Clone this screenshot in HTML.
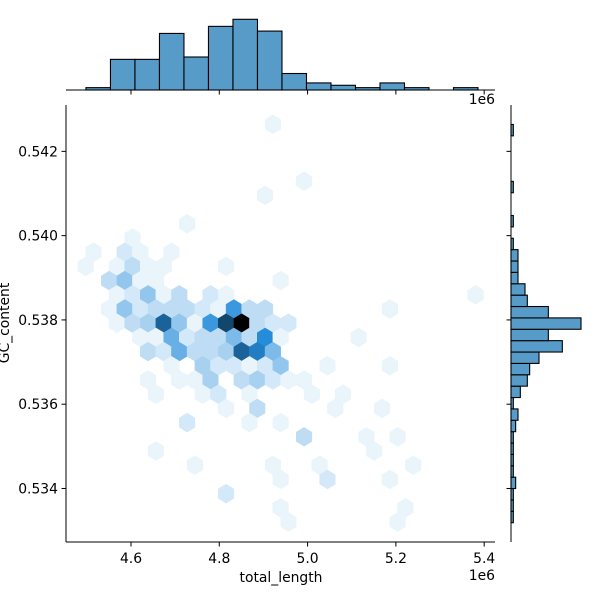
<!DOCTYPE html>
<html><head><meta charset="utf-8"><style>
html,body{margin:0;padding:0;background:#fff;}
svg{display:block;font-family:"DejaVu Sans","Liberation Sans",sans-serif;}
</style></head><body>
<svg id="chart" width="600" height="600" viewBox="0 0 600 600" xmlns="http://www.w3.org/2000/svg">
<rect x="0" y="0" width="600" height="600" fill="#fff"/>
<g id="hexes"></g>
<g id="tophist"></g>
<g id="righthist"></g>
<g id="axes"></g>
<text x="281" y="582" font-size="13.9" text-anchor="middle">total_length</text>
<text x="0" y="0" font-size="13.9" text-anchor="middle" transform="translate(9,323) rotate(-90)">GC_content</text>
<text x="495" y="580" font-size="13.9" text-anchor="end">1e6</text>
<text x="495" y="104" font-size="13.9" text-anchor="end">1e6</text>
</svg>
<script>
// ---- data ----
const xTicks = [4.6, 4.8, 5.0, 5.2, 5.4];
const xTickLabels = ["4.6", "4.8", "5.0", "5.2", "5.4"];
const yTicks = [0.534, 0.536, 0.538, 0.540, 0.542];
const yTickLabels = ["0.534", "0.536", "0.538", "0.540", "0.542"];
// hex grid (data units, total_length in 1e6)
const hexX0 = 4.8507, hexDX = 0.03533, hexY0 = 0.537922, hexDY = 0.000337;
const hexRow = [-14,-10,-9,-7,-6,
 -5,-5,-5,-5,
 -4,-4,-4,-4,-4,-4,
 -3,-3,-3,-3,-3,
 -2,-2,-2,-2,-2,-2,-2,-2,
 -1,-1,-1,-1,-1,-1,-1,-1,-1,-1,-1,-1,
 0,0,0,0,0,0,0,0,0,0,0,0,
 1,1,1,1,1,1,1,1,1,1,1,
 2,2,2,2,2,2,2,2,2,
 3,3,3,3,3,3,3,3,3,
 4,4,4,4,4,4,4,4,4,
 5,5,5,5,5,5,
 6,6,6,6,
 7,7,7,
 8,8,8,
 9,9,
 10,10,10,10,
 11,11,11,
 12,
 13,13,
 14,14];
const hexCol = [2,4,1.5,-3.5,-7,
 -9.5,-7.5,-6.5,-4.5,
 -10,-8,-7,-6,-5,-1,
 -8.5,-7.5,-6.5,-5.5,2.5,
 -8,-7,-6,-5,-4,-2,-1,15,
 -8.5,-7.5,-6.5,-5.5,-4.5,-3.5,-2.5,-1.5,-0.5,0.5,1.5,9.5,
 -8,-7,-6,-5,-4,-3,-2,-1,0,1,2,3,
 -6.5,-5.5,-4.5,-3.5,-2.5,-1.5,-0.5,0.5,1.5,2.5,7.5,
 -6,-5,-4,-3,-2,-1,0,1,2,
 -4.5,-2.5,-1.5,-0.5,0.5,1.5,2.5,5.5,9.5,
 -6,-4,-3,-2,0,1,2,3,4,
 -5.5,-2.5,-1.5,0.5,4.5,6.5,
 -1,1,6,9,
 -3.5,0.5,2.5,
 4,8,10,
 -5.5,8.5,
 -3,2,5,11,
 2.5,5.5,9.5,
 -1,
 2.5,10.5,
 3,10];
const hexCount = [1,1,1,1,1,
 1,2,1,1,
 1,1,3,1,1,1,
 3,5,1,1,1,
 1,2,5,1,3,2,1,1,
 1,5,2,3,3,3,2,1,9,3,3,1,
 1,3,4,13,5,1,9,15,20,3,2,2,
 1,1,7,2,3,3,6,3,10,1,1,
 3,2,7,3,3,4,13,11,6,
 1,4,2,2,1,2,5,1,1,
 1,1,1,4,3,4,2,1,1,
 1,1,2,1,1,1,
 1,3,1,1,
 2,1,1,
 3,1,1,
 1,1,
 1,1,1,1,
 1,2,1,
 2,
 1,1,
 1,1];
// top marginal histogram
const topBinStart = 4.498, topBinWidth = 0.0555;
const topCounts = [1,13,13,24,14,27,30,25,7,3,2,1,3,1,0,1];
// right marginal histogram (bottom to top)
const rightBinStart = 0.533188, rightBinWidth = 0.00027;
const rightCounts = [1,1,1,2,1,1,1,1,2,3,1,4,7,8,12,22,16,30,16,7,6,3,3,3,1,0,1,0,0,1,0,0,0,0,1];

// ---- scales ----
const X_MIN = 4.4528, X_MAX = 5.4245, PX_L = 66, PX_R = 495;
const Y_MIN = 0.53273, Y_MAX = 0.54310, PY_B = 542, PY_T = 105;
function sx(v){ return PX_L + (v - X_MIN) / (X_MAX - X_MIN) * (PX_R - PX_L); }
function sy(v){ return PY_B - (v - Y_MIN) / (Y_MAX - Y_MIN) * (PY_B - PY_T); }
const TOP_BASE = 90, TOP_PER = 70.7 / 30;
function topH(c){ return c * TOP_PER; }
const RIGHT_BASE = 511, RIGHT_PER = 70 / 30;
function rightW(c){ return c * RIGHT_PER; }
const MAXC = 20;
function hexColor(c){ const l = Math.max(0, 1 - c / MAXC); return "hsl(205.7,70.6%," + (l*100).toFixed(1) + "%)"; }

const NS = "http://www.w3.org/2000/svg";
function mk(tag, attrs, parent){ const e = document.createElementNS(NS, tag); for (const k in attrs) e.setAttribute(k, attrs[k]); parent.appendChild(e); return e; }

// hexes
const gH = document.getElementById("hexes");
for (let k = 0; k < hexCount.length; k++) {
  const cx = sx(hexX0 + hexCol[k] * hexDX);
  const cy = sy(hexY0 - hexRow[k] * hexDY);
  const hw = (sx(hexX0 + hexDX) - sx(hexX0)) / 2;
  const rowPx = sy(hexY0 - hexDY) - sy(hexY0);
  const top = rowPx * 2 / 3, sh = rowPx / 3;
  const pts = [[cx, cy - top],[cx + hw, cy - sh],[cx + hw, cy + sh],[cx, cy + top],[cx - hw, cy + sh],[cx - hw, cy - sh]].map(p => p[0].toFixed(2) + "," + p[1].toFixed(2)).join(" ");
  const col = hexColor(hexCount[k]);
  const p = mk("polygon", {points: pts, fill: col, stroke: col, "stroke-width": "0.5"}, gH);
  
  
}

// top histogram
const gT = document.getElementById("tophist");
for (let k = 0; k < topCounts.length; k++) {
  if (topCounts[k] <= 0) continue;
  const x0 = sx(topBinStart + k * topBinWidth), x1 = sx(topBinStart + (k + 1) * topBinWidth);
  const h = topH(topCounts[k]);
  const r = mk("rect", {x: x0, y: TOP_BASE - h, width: x1 - x0, height: h, fill: "#579bc8", stroke: "#000", "stroke-width": "1.1"}, gT);
  
  
}
// right histogram
const gR = document.getElementById("righthist");
for (let k = 0; k < rightCounts.length; k++) {
  if (rightCounts[k] <= 0) continue;
  const y0 = sy(rightBinStart + (k + 1) * rightBinWidth), y1 = sy(rightBinStart + k * rightBinWidth);
  const w = rightW(rightCounts[k]);
  const r = mk("rect", {x: RIGHT_BASE, y: y0, width: w, height: y1 - y0, fill: "#579bc8", stroke: "#000", "stroke-width": "1.1"}, gR);
  
  
}

// axes
const gA = document.getElementById("axes");
let e;
e = mk("line", {x1: PX_L, y1: PY_T, x2: PX_L, y2: PY_B, stroke: "#000", "stroke-width": "1"}, gA);
 
e = mk("line", {x1: PX_L, y1: PY_B, x2: PX_R, y2: PY_B, stroke: "#000", "stroke-width": "1"}, gA);
 
e = mk("line", {x1: PX_L, y1: TOP_BASE, x2: PX_R, y2: TOP_BASE, stroke: "#000", "stroke-width": "1"}, gA);
 
e = mk("line", {x1: RIGHT_BASE, y1: PY_T, x2: RIGHT_BASE, y2: PY_B, stroke: "#000", "stroke-width": "1"}, gA);
 
for (let k = 0; k < xTicks.length; k++) {
  const x = sx(xTicks[k]);
  e = mk("line", {x1: x, y1: PY_B, x2: x, y2: PY_B + 4.5, stroke: "#000", "stroke-width": "1"}, gA);
   
  e = mk("line", {x1: x, y1: TOP_BASE, x2: x, y2: TOP_BASE + 4.5, stroke: "#000", "stroke-width": "1"}, gA);
   
  e = mk("text", {x: x, y: PY_B + 21, "font-size": "13.9", "text-anchor": "middle"}, gA);
  e.textContent = xTickLabels[k];
   
}
for (let k = 0; k < yTicks.length; k++) {
  const y = sy(yTicks[k]);
  e = mk("line", {x1: PX_L - 4.5, y1: y, x2: PX_L, y2: y, stroke: "#000", "stroke-width": "1"}, gA);
   
  e = mk("line", {x1: RIGHT_BASE - 4.5, y1: y, x2: RIGHT_BASE, y2: y, stroke: "#000", "stroke-width": "1"}, gA);
   
  e = mk("text", {x: PX_L - 8, y: y + 5, "font-size": "13.9", "text-anchor": "end"}, gA);
  e.textContent = yTickLabels[k];
   
}
</script>
</body></html>
